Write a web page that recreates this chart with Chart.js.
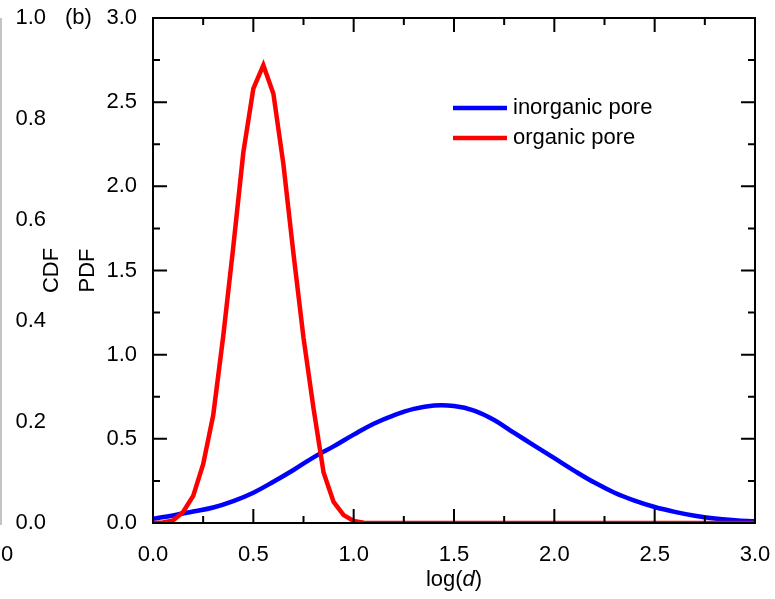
<!DOCTYPE html>
<html>
<head>
<meta charset="utf-8">
<script src="https://cdn.jsdelivr.net/npm/chart.js@4.4.1/dist/chart.umd.min.js"></script>
<style>
  html, body { margin: 0; padding: 0; background: #fff; overflow: hidden; }
  canvas { display: block; }
</style>
</head>
<body>
<canvas id="chart" width="775" height="599"></canvas>
<script>
// values
const inorganicX = [0, 0.1, 0.2, 0.3, 0.4, 0.5, 0.6, 0.7, 0.8, 0.9, 1.0, 1.1, 1.2, 1.3, 1.4, 1.5,
  1.6, 1.7, 1.8, 1.9, 2.0, 2.1, 2.2, 2.3, 2.4, 2.5, 2.6, 2.7, 2.8, 2.9, 3.0];
const inorganicPdf = [0.025, 0.045, 0.068, 0.092, 0.13, 0.18, 0.245, 0.315, 0.39, 0.455, 0.525, 0.59, 0.64, 0.678, 0.698, 0.695,
  0.668, 0.612, 0.535, 0.46, 0.385, 0.31, 0.24, 0.18, 0.133, 0.095, 0.066, 0.043, 0.027, 0.017, 0.01];

const organicX = [0, 0.05, 0.1, 0.15, 0.2, 0.25, 0.3, 0.35, 0.4, 0.45, 0.5, 0.55, 0.6, 0.65, 0.7, 0.75,
  0.8, 0.85, 0.9, 0.95, 1.0, 1.05, 1.1, 1.5, 2.0, 2.5, 3.0];
const organicPdf = [0, 0.003, 0.015, 0.065, 0.16, 0.35, 0.64, 1.11, 1.64, 2.2, 2.58, 2.72, 2.55, 2.13, 1.6, 1.1,
  0.68, 0.3, 0.125, 0.047, 0.012, 0.002, 0, 0, 0, 0, 0];

const seriesLabels = ['inorganic pore', 'organic pore'];
const seriesColors = ['#0000ff', '#ff0000'];

const xTicks = [0, 0.5, 1.0, 1.5, 2.0, 2.5, 3.0];
const pdfTicks = [0, 0.5, 1.0, 1.5, 2.0, 2.5, 3.0];
const cdfTicks = [0, 0.2, 0.4, 0.6, 0.8, 1.0];

const FONT = '"Liberation Sans", Arial, sans-serif';

function pairs(xs, ys) {
  return xs.map((x, i) => ({ x: x, y: ys[i] }));
}

function fixedTicks(arr) {
  return (scale) => { scale.ticks = arr.map(v => ({ value: v })); };
}

// frame with inward ticks on all four sides, plus the loose texts
const framePlugin = {
  id: 'frame',
  afterDraw(chart) {
    const { ctx, chartArea: a, scales } = chart;
    const xs = scales.x, ys = scales.y;
    ctx.save();
    ctx.strokeStyle = '#000';
    ctx.lineWidth = 2;
    ctx.strokeRect(a.left, a.top, a.right - a.left, a.bottom - a.top);

    ctx.beginPath();
    xTicks.forEach((v, i) => {
      const p = xs.getPixelForValue(v);
      ctx.moveTo(p, a.bottom); ctx.lineTo(p, a.bottom - 14);
      ctx.moveTo(p, a.top); ctx.lineTo(p, a.top + 14);
      if (i < xTicks.length - 1) {
        const m = xs.getPixelForValue((v + xTicks[i + 1]) / 2);
        ctx.moveTo(m, a.bottom); ctx.lineTo(m, a.bottom - 7);
        ctx.moveTo(m, a.top); ctx.lineTo(m, a.top + 7);
      }
    });
    pdfTicks.forEach((v, i) => {
      const p = ys.getPixelForValue(v);
      ctx.moveTo(a.left, p); ctx.lineTo(a.left + 14, p);
      ctx.moveTo(a.right, p); ctx.lineTo(a.right - 14, p);
      if (i < pdfTicks.length - 1) {
        const m = ys.getPixelForValue((v + pdfTicks[i + 1]) / 2);
        ctx.moveTo(a.left, m); ctx.lineTo(a.left + 7, m);
        ctx.moveTo(a.right, m); ctx.lineTo(a.right - 7, m);
      }
    });
    ctx.stroke();

    // edge of the neighbouring panel
    ctx.strokeStyle = '#b0b0b0';
    ctx.lineWidth = 1.5;
    ctx.beginPath();
    ctx.moveTo(1, a.top); ctx.lineTo(1, a.bottom + 2);
    ctx.stroke();

    ctx.fillStyle = '#000';
    ctx.font = '22px ' + FONT;
    ctx.textBaseline = 'middle';
    ctx.textAlign = 'left';
    ctx.fillText('(b)', 65, a.top);
    ctx.fillText('0', 1, 555);

    const midY = (a.top + a.bottom) / 2;
    [['CDF', 52], ['PDF', 88]].forEach(([t, x]) => {
      ctx.save();
      ctx.translate(x, midY);
      ctx.rotate(-Math.PI / 2);
      ctx.textAlign = 'center';
      ctx.fillText(t, 0, 0);
      ctx.restore();
    });

    // x title: log(d) with italic d
    const parts = [['log(', '22px '], ['d', 'italic 22px '], [')', '22px ']];
    let w = 0;
    parts.forEach(p => { ctx.font = p[1] + FONT; w += ctx.measureText(p[0]).width; });
    let x = (a.left + a.right) / 2 - w / 2;
    parts.forEach(p => {
      ctx.font = p[1] + FONT;
      ctx.fillText(p[0], x, 580);
      x += ctx.measureText(p[0]).width;
    });

    // legend
    ctx.font = '22px ' + FONT;
    chart.data.datasets.forEach((ds, i) => {
      const y = 108 + i * 30;
      ctx.strokeStyle = ds.borderColor;
      ctx.lineWidth = 4.5;
      ctx.beginPath();
      ctx.moveTo(453, y); ctx.lineTo(507, y);
      ctx.stroke();
      ctx.fillStyle = '#000';
      ctx.fillText(ds.label, 513, y);
    });
    ctx.restore();
  }
};

const tickFont = { family: FONT, size: 22 };

new Chart(document.getElementById('chart'), {
  type: 'line',
  data: {
    datasets: [
      {
        label: seriesLabels[0],
        data: pairs(inorganicX, inorganicPdf),
        borderColor: seriesColors[0],
        borderWidth: 4.5,
        pointRadius: 0,
        tension: 0.4,
        order: 1
      },
      {
        label: seriesLabels[1],
        data: pairs(organicX, organicPdf),
        borderColor: seriesColors[1],
        borderWidth: 4.5,
        pointRadius: 0,
        tension: 0,
        order: 0
      }
    ]
  },
  options: {
    responsive: false,
    animation: false,
    devicePixelRatio: 1,
    layout: { padding: { left: 0, right: 20, top: 18, bottom: 0 } },
    plugins: { legend: { display: false }, tooltip: { enabled: false } },
    scales: {
      x: {
        type: 'linear', min: 0, max: 3,
        afterBuildTicks: fixedTicks(xTicks),
        afterFit: (s) => { s.height = 76; s.paddingLeft = 0; s.paddingRight = 0; },
        grid: { display: false, drawTicks: false },
        border: { display: false },
        ticks: { font: tickFont, color: '#000', padding: 19, maxRotation: 0,
                 callback: (v) => v.toFixed(1) }
      },
      y: {
        type: 'linear', position: 'left', min: 0, max: 3, weight: 0,
        afterBuildTicks: fixedTicks(pdfTicks),
        afterFit: (s) => { s.width = 91; s.paddingTop = 0; s.paddingBottom = 0; },
        grid: { display: false, drawTicks: false },
        border: { display: false },
        ticks: { font: tickFont, color: '#000', padding: 16,
                 callback: (v) => v.toFixed(1) }
      },
      cdf: {
        type: 'linear', position: 'left', min: 0, max: 1, weight: 1,
        afterBuildTicks: fixedTicks(cdfTicks),
        afterFit: (s) => { s.width = 62; s.paddingTop = 0; s.paddingBottom = 0; },
        grid: { display: false, drawTicks: false },
        border: { display: false },
        ticks: { font: tickFont, color: '#000', padding: 16,
                 callback: (v) => v.toFixed(1) }
      }
    }
  },
  plugins: [framePlugin]
});
</script>
</body>
</html>
